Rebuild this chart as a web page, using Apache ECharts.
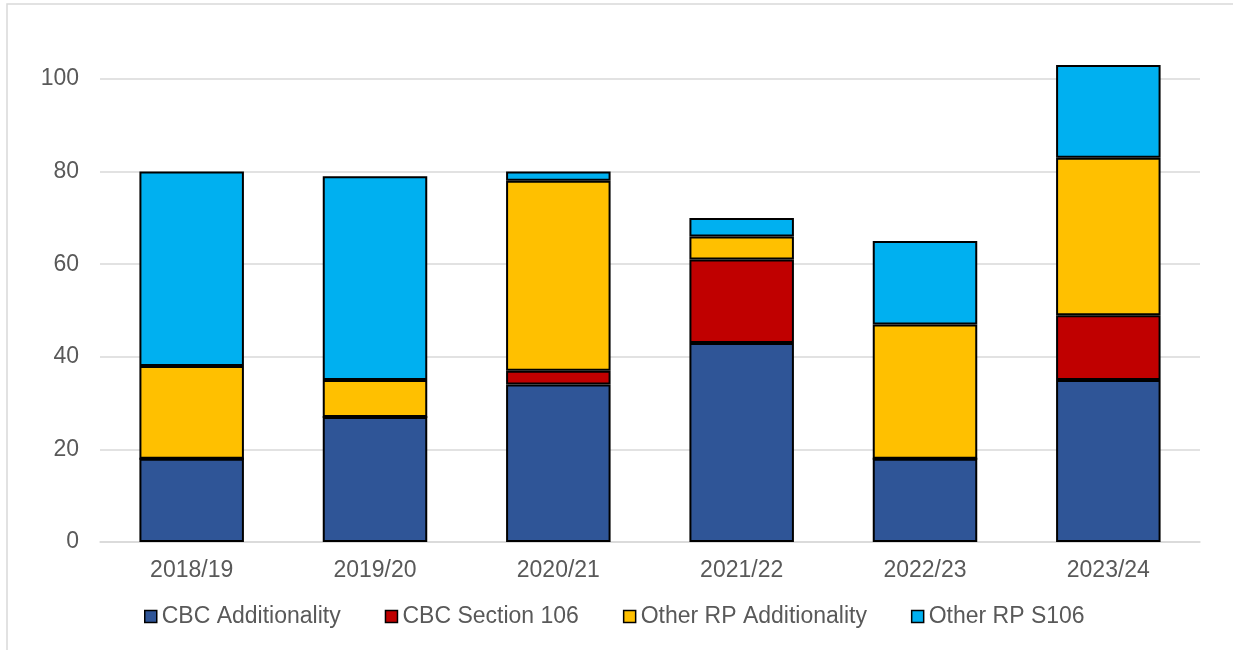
<!DOCTYPE html>
<html>
<head>
<meta charset="utf-8">
<script src="https://cdn.jsdelivr.net/npm/echarts@6/dist/echarts.min.js"></script>
<style>
  html, body { margin: 0; padding: 0; background: #fff; }
  #chart { width: 1233px; height: 650px; }
</style>
</head>
<body>
<div id="chart"></div>
<script>
// data
var years = ['2018/19', '2019/20', '2020/21', '2021/22', '2022/23', '2023/24'];
var cbcAdditionality = [18, 27, 34, 43, 18, 35];
var cbcSection106 = [0, 0, 3, 18, 0, 14];
var otherRpAdditionality = [20, 8, 41, 5, 29, 34];
var otherRpS106 = [42, 44, 2, 4, 18, 20];

var chart = echarts.init(document.getElementById('chart'), null, {renderer: 'canvas'});

function barSeries(name, data, color) {
    return {
        name: name,
        type: 'bar',
        stack: 'total',
        data: data,
        barWidth: '57%',
        clip: false,
        itemStyle: {
            color: color,
            borderColor: '#000',
            borderWidth: 2
        }
    };
}

var option = {
    animation: false,
    backgroundColor: '#fff',
    textStyle: {fontFamily: 'Liberation Sans, Arial, sans-serif'},
    graphic: [{
        type: 'rect',
        shape: {x: 7, y: 4, width: 1400, height: 800},
        style: {fill: 'none', stroke: '#d9d9d9', lineWidth: 1.5},
        silent: true
    }],
    grid: {left: 100, right: 33, top: 79, bottom: 108, containLabel: false},
    legend: {
        left: 139,
        top: 600,
        itemWidth: 12,
        itemHeight: 12,
        itemGap: 44,
        icon: 'rect',
        itemStyle: {borderColor: '#000', borderWidth: 1.5},
        textStyle: {fontSize: 23, color: '#595959', fontFamily: 'Liberation Sans, Arial, sans-serif'}
    },
    xAxis: {
        type: 'category',
        data: years,
        axisLine: {lineStyle: {color: '#d9d9d9', width: 1.5}},
        axisTick: {show: false},
        axisLabel: {fontSize: 23, color: '#595959', margin: 17}
    },
    yAxis: {
        type: 'value',
        min: 0,
        max: 100,
        interval: 20,
        axisLine: {show: false},
        axisTick: {show: false},
        axisLabel: {fontSize: 23, color: '#595959', margin: 21},
        splitLine: {lineStyle: {color: '#d9d9d9', width: 1.5}}
    },
    series: [
        barSeries('CBC Additionality', cbcAdditionality, '#2F5597'),
        barSeries('CBC Section 106', cbcSection106, '#C00000'),
        barSeries('Other RP Additionality', otherRpAdditionality, '#FFC000'),
        barSeries('Other RP S106', otherRpS106, '#00B0F0')
    ]
};
chart.setOption(option);
</script>
</body>
</html>
